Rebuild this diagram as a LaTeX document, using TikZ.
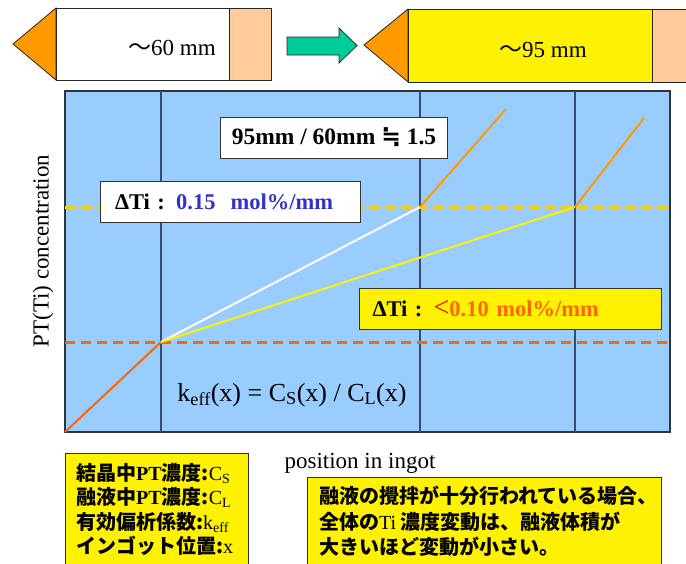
\documentclass[tikz,border=0pt]{standalone}
\usepackage{fontspec}
\setmainfont{Liberation Serif}
\newfontfamily\jp{Noto Sans CJK JP}
\newfontfamily\dejavu{DejaVu Sans}
\usetikzlibrary{positioning}
\definecolor{skyblue}{HTML}{99CCFF}
\definecolor{gridc}{HTML}{3B4B6B}
\definecolor{tipor}{HTML}{FF9900}
\definecolor{peach}{HTML}{FFCC99}
\definecolor{teal}{HTML}{00CC99}
\definecolor{dashyel}{HTML}{FFCC00}
\definecolor{dashor}{HTML}{FF6600}
\definecolor{textblue}{HTML}{3333CC}
\begin{document}
\begin{tikzpicture}[
    x=1pt, y=-1pt,
    wbox/.style={draw=black!80, fill=white, line width=1pt, inner sep=0pt, minimum height=41pt, font=\fontsize{22.5}{24}\selectfont\bfseries},
    ybox/.style={wbox, fill=yellow},
    ingot/.style={draw=black!85, line width=0.8pt},
    gline/.style={draw=gridc, line width=1.3pt},
    trend/.style={line width=2pt},
    dashy/.style={line width=3pt, dash pattern=on 10pt off 6pt},
    lbl/.style={inner sep=0pt, font=\fontsize{23}{25}\selectfont},
    jtext/.style={inner sep=0pt, anchor=north west, align=left, font=\jp\bfseries\fontsize{20}{25.5}\selectfont}
  ]
    \path[use as bounding box, clip] (0,0) rectangle (686,563);

    \filldraw[ingot, fill=tipor] (13,44) -- (56,8) -- (56,80) -- cycle;
    \filldraw[ingot, fill=white] (56,8) rectangle (229,80);
    \filldraw[ingot, fill=peach] (229,8) rectangle (271,80);
    \node[lbl] (len60) at (172,48) {{\jp ～}60 mm};
    \filldraw[ingot, fill=teal] (287,37) -- (339,37) -- (339,28) -- (357,45.5) -- (339,63) -- (339,55) -- (287,55) -- cycle;
    \filldraw[ingot, fill=tipor] (364,45) -- (408,9) -- (408,82) -- cycle;
    \filldraw[ingot, fill=yellow] (408,9) rectangle (652,82);
    \filldraw[ingot, fill=peach] (652,9) rectangle (692,82);
    \node[lbl] (len95) at (543,50) {{\jp ～}95 mm};

    \filldraw[fill=skyblue, draw=black!80, line width=1.5pt] (65,91) rectangle (670,432);
    \draw[gline] (161,91) -- (161,432);
    \draw[gline] (420,91) -- (420,432);
    \draw[gline] (575,91) -- (575,432);

    \coordinate (ya) at (65,207);
    \coordinate (yb) at (670,207);
    \coordinate (oa) at (65,342);
    \coordinate (ob) at (670,342);
    \coordinate (o) at (65,432);
    \coordinate (p1) at (161,342);
    \coordinate (p2) at (420,207);
    \coordinate (p3) at (575,207);
    \coordinate (t2) at (506,109);
    \coordinate (t3) at (644,118);

    \draw[dashy, dashyel] (ya) -- (yb);
    \draw[dashy, dashor] (oa) -- (ob);
    \draw[trend, dashor] (o) -- (p1);
    \draw[trend, white] (p1) -- (p2);
    \draw[trend, yellow] (p1) -- (p3);
    \draw[trend, tipor] (p2) -- (t2);
    \draw[trend, tipor] (p3) -- (t3);

    \node[wbox, minimum width=227pt, font=\fontsize{23.5}{25}\selectfont\bfseries] (ratio) at (334,137.5) {95mm / 60mm {\dejavu ≒} 1.5};
    \node[wbox, anchor=west, text width=230pt, align=left, inner xsep=15pt] (dslow) at (99.5,201.5) {ΔTi : \textcolor{textblue}{0.15\ \ mol\%/mm}};
    \node[ybox, anchor=west, text width=276pt, align=left, inner xsep=13pt] (dfast) at (359,308.5) {ΔTi : \textcolor{red}{\mdseries\fontsize{28}{28}\selectfont<}\textcolor{dashor}{0.10 mol\%/mm}};
    \node[lbl, font=\fontsize{26}{28}\selectfont] (keff) at (292,395) {k\textsubscript{eff}(x) = C\textsubscript{S}(x) / C\textsubscript{L}(x)};
    \node[lbl, rotate=90] (ylab) at (43,251) {PT(Ti) concentration};
    \node[lbl] (xlab) at (360,463) {position in ingot};

    \filldraw[fill=yellow, draw=black!80, line width=1pt] (65,453) rectangle (248,575);
    \node[jtext, font=\jp\bfseries\fontsize{20}{24.5}\selectfont] (legend) at (76,463) {結晶中{\rmfamily PT}濃度:{\rmfamily\mdseries C\textsubscript{S}}\\
      融液中{\rmfamily PT}濃度:{\rmfamily\mdseries C\textsubscript{L}}\\
      有効偏析係数:{\rmfamily\mdseries k\textsubscript{eff}}\\
      インゴット位置:{\rmfamily\mdseries x}};
    \filldraw[fill=yellow, draw=black!80, line width=1pt] (307,477) rectangle (661,575);
    \node[jtext] (note) at (319,486) {融液の攪拌が十分行われている場合、\\
      全体の{\rmfamily\mdseries Ti} 濃度変動は、融液体積が\\
      大きいほど変動が小さい。};
  \end{tikzpicture}
\end{document}
